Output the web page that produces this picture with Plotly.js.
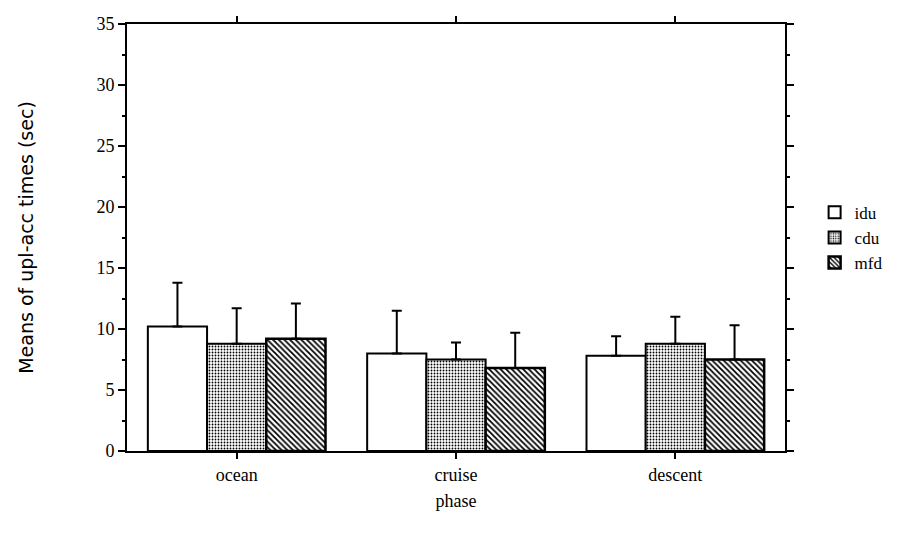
<!DOCTYPE html>
<html>
<head>
<meta charset="utf-8">
<script src="https://cdn.plot.ly/plotly-3.0.1.min.js"></script>
<style>html,body{margin:0;padding:0;background:#fff;}#chart{width:903px;height:533px;}</style>
</head>
<body>
<div id="chart"></div>
<script>
const phases = ["ocean", "cruise", "descent"];
const iduMeans = [10.2, 8.0, 7.8];
const cduMeans = [8.8, 7.5, 8.8];
const mfdMeans = [9.2, 6.8, 7.5];
const iduErr = [3.6, 3.5, 1.6];
const cduErr = [2.9, 1.4, 2.2];
const mfdErr = [2.9, 2.9, 2.8];
const zeros = [0, 0, 0];

function errUp(arr) {
  return {type: 'data', symmetric: false, array: arr, arrayminus: zeros,
          color: '#000', thickness: 2, width: 5};
}

const traces = [
  {type: 'bar', name: 'idu', x: phases, y: iduMeans, error_y: errUp(iduErr),
   marker: {color: '#ffffff', line: {color: '#000', width: 2}}},
  {type: 'bar', name: 'cdu', x: phases, y: cduMeans, error_y: errUp(cduErr),
   marker: {color: '#ffffff', line: {color: '#000', width: 2},
            pattern: {shape: '.', fgcolor: '#000', bgcolor: '#fff', size: 3, solidity: 0.3}}},
  {type: 'bar', name: 'mfd', x: phases, y: mfdMeans, error_y: errUp(mfdErr),
   marker: {color: '#ffffff', line: {color: '#000', width: 2.5},
            pattern: {shape: '\\', fgcolor: '#000', bgcolor: '#fff', size: 4, solidity: 0.45}}}
];

const serif = 'Liberation Serif, serif';
const layout = {
  width: 903, height: 533,
  margin: {l: 127, r: 118, t: 24, b: 82},
  paper_bgcolor: '#fff', plot_bgcolor: '#fff',
  barmode: 'group', bargap: 0.19, bargroupgap: 0,
  showlegend: true,
  legend: {x: 1.045, y: 0.6, xanchor: 'left', yanchor: 'top',
           font: {family: serif, size: 17, color: '#000'},
           itemwidth: 30, tracegroupgap: 2},
  xaxis: {
    range: [-0.5, 2.5],
    showline: true, linecolor: '#000', linewidth: 2, mirror: 'ticks',
    ticks: 'outside', ticklen: 6, tickwidth: 2, tickcolor: '#000',
    tickfont: {family: serif, size: 18, color: '#000'},
    title: {text: 'phase', font: {family: serif, size: 18, color: '#000'}, standoff: 11},
    showgrid: false, zeroline: false
  },
  yaxis: {
    range: [0, 35], dtick: 5,
    showline: true, linecolor: '#000', linewidth: 2, mirror: 'ticks',
    ticks: 'outside', ticklen: 7, tickwidth: 2, tickcolor: '#000',
    minor: {dtick: 2.5, ticks: 'outside', ticklen: 3, tickwidth: 2, tickcolor: '#000'},
    tickfont: {family: serif, size: 18, color: '#000'},
    title: {text: 'Means of upl-acc times (sec)', font: {family: 'DejaVu Sans, sans-serif', size: 19, color: '#000'}, standoff: 58},
    showgrid: false, zeroline: false
  }
};

Plotly.newPlot('chart', traces, layout, {displayModeBar: false, staticPlot: true});
</script>
</body>
</html>
